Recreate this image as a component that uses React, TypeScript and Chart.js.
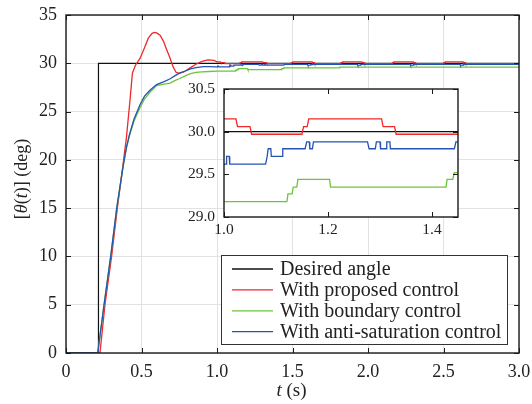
import React, { useEffect, useRef } from 'react';
import { Chart, registerables } from 'chart.js';

Chart.register(...registerables);

const FONT = '"Liberation Serif", "Times New Roman", serif';

// ---------- axis ticks ----------
const xTicks = [0, 0.5, 1.0, 1.5, 2.0, 2.5, 3.0];
const yTicks = [0, 5, 10, 15, 20, 25, 30, 35];
const insetXTicks = [1.0, 1.2, 1.4];
const insetYTicks = [29.0, 29.5, 30.0, 30.5];

// ---------- series ----------
const seriesNames = [
  'Desired angle',
  'With proposed control',
  'With boundary control',
  'With anti-saturation control',
];
const seriesColors = ['#111111', '#f0282a', '#6cc43c', '#2553b2'];

// [t (s), theta (deg)]
const desired: [number, number][] = [
  [0, 0], [0.215, 0], [0.215, 30], [3.0, 30],
];

const proposed: [number, number][] = [
  [0, 0], [0.225, 0], [0.258, 5], [0.302, 10], [0.34, 15], [0.38, 19.8], [0.40, 22.3],
  [0.424, 26.2], [0.44, 29.0], [0.46, 29.8], [0.49, 30.5], [0.52, 31.6], [0.545, 32.6],
  [0.57, 33.1], [0.585, 33.2], [0.60, 33.15], [0.623, 32.9], [0.645, 32.3], [0.667, 31.4],
  [0.69, 30.5], [0.71, 29.6], [0.73, 29.05], [0.75, 28.95], [0.78, 29.1], [0.82, 29.5],
  [0.86, 29.9], [0.90, 30.2], [0.94, 30.35], [0.98, 30.3], [1.0, 30.15],
  [1.023, 30.15], [1.026, 30.06], [1.05, 30.06], [1.053, 29.97], [1.15, 29.97],
  [1.153, 30.06], [1.16, 30.06], [1.163, 30.15], [1.303, 30.15], [1.306, 30.06],
  [1.328, 30.06], [1.331, 29.97], [1.49, 29.97], [1.492, 30.06], [1.50, 30.06],
  [1.502, 30.15], [1.63, 30.15], [1.632, 30.06], [1.645, 30.06], [1.647, 29.97],
  [1.82, 29.97], [1.822, 30.06], [1.83, 30.06], [1.832, 30.15], [1.96, 30.15],
  [1.962, 30.06], [1.975, 30.06], [1.977, 29.97], [2.16, 29.97], [2.162, 30.06],
  [2.17, 30.06], [2.172, 30.15], [2.30, 30.15], [2.302, 30.06], [2.315, 30.06],
  [2.317, 29.97], [2.50, 29.97], [2.502, 30.06], [2.51, 30.06], [2.512, 30.15],
  [2.63, 30.15], [2.632, 30.06], [2.645, 30.06], [2.647, 29.97], [3.0, 29.97],
];

const boundary: [number, number][] = [
  [0, 0], [0.21, 0], [0.252, 5], [0.296, 10], [0.336, 15], [0.38, 19.5], [0.40, 21.2],
  [0.42, 22.5], [0.45, 24.0], [0.49, 25.4], [0.52, 26.3], [0.556, 27.0], [0.60, 27.7],
  [0.65, 27.85], [0.69, 27.95], [0.72, 28.2], [0.75, 28.4], [0.79, 28.7], [0.82, 28.9],
  [0.86, 29.05], [0.90, 29.12], [0.95, 29.15], [1.0, 29.18], [1.121, 29.18],
  [1.123, 29.27], [1.131, 29.27], [1.133, 29.35], [1.14, 29.35], [1.142, 29.44],
  [1.203, 29.44], [1.205, 29.35], [1.427, 29.35], [1.429, 29.44], [1.44, 29.44],
  [1.443, 29.52], [1.81, 29.52], [1.812, 29.6], [3.0, 29.6],
];

const antiSaturation: [number, number][] = [
  [0, 0], [0.21, 0], [0.252, 5], [0.296, 10], [0.336, 15], [0.38, 19.5], [0.40, 21.3],
  [0.42, 22.6], [0.45, 24.2], [0.49, 25.7], [0.52, 26.6], [0.556, 27.2], [0.60, 27.8],
  [0.65, 28.1], [0.69, 28.4], [0.72, 28.7], [0.755, 29.0], [0.79, 29.2], [0.82, 29.4],
  [0.86, 29.55], [0.91, 29.65], [0.95, 29.65], [0.99, 29.62], [1.0, 29.62],
  [1.004, 29.62], [1.005, 29.71], [1.010, 29.71], [1.011, 29.62], [1.08, 29.62],
  [1.083, 29.71], [1.085, 29.80], [1.09, 29.80], [1.091, 29.71], [1.112, 29.71],
  [1.113, 29.80], [1.156, 29.80], [1.159, 29.88], [1.164, 29.88], [1.165, 29.80],
  [1.17, 29.80], [1.172, 29.88], [1.276, 29.88], [1.279, 29.80], [1.291, 29.80],
  [1.293, 29.88], [1.30, 29.88], [1.301, 29.80], [1.312, 29.80], [1.313, 29.88],
  [1.319, 29.88], [1.32, 29.80], [1.443, 29.80], [1.446, 29.88], [1.60, 29.88],
  [1.602, 29.80], [1.62, 29.80], [1.622, 29.88], [1.93, 29.88], [1.932, 29.80],
  [1.95, 29.80], [1.952, 29.88], [2.28, 29.88], [2.282, 29.80], [2.30, 29.80],
  [2.302, 29.88], [2.61, 29.88], [2.612, 29.80], [2.63, 29.80], [2.632, 29.88],
  [3.0, 29.88],
];

const allSeries = [desired, proposed, boundary, antiSaturation];
const drawOrder = [3, 2, 1, 0]; // blue drawn on top

function buildDatasets() {
  return allSeries.map((s, i) => ({
    label: seriesNames[i],
    data: s.map(([x, y]) => ({ x, y })),
    borderColor: seriesColors[i],
    backgroundColor: seriesColors[i],
    borderWidth: i === 0 ? 1.2 : 1.3,
    pointRadius: 0,
    tension: 0,
    fill: false,
    order: drawOrder[i],
  }));
}

function zeroPad(s: any) {
  s.paddingLeft = 0;
  s.paddingRight = 0;
  s.paddingTop = 0;
  s.paddingBottom = 0;
}

// frame + inward ticks
function framePlugin(tickLen: number, xt: number[], yt: number[]) {
  return {
    id: 'frame',
    afterDatasetsDraw(chart: any) {
      const { ctx, chartArea: a, scales } = chart;
      ctx.save();
      ctx.strokeStyle = '#1a1a1a';
      ctx.lineWidth = 1;
      ctx.beginPath();
      xt.forEach((v) => {
        const x = Math.round(scales.x.getPixelForValue(v)) + 0.5;
        ctx.moveTo(x, a.bottom);
        ctx.lineTo(x, a.bottom - tickLen);
        ctx.moveTo(x, a.top);
        ctx.lineTo(x, a.top + tickLen);
      });
      yt.forEach((v) => {
        const y = Math.round(scales.y.getPixelForValue(v)) + 0.5;
        ctx.moveTo(a.left, y);
        ctx.lineTo(a.left + tickLen, y);
        ctx.moveTo(a.right, y);
        ctx.lineTo(a.right - tickLen, y);
      });
      ctx.stroke();
      ctx.lineWidth = 1.4;
      ctx.strokeRect(a.left, a.top, a.right - a.left, a.bottom - a.top);
      ctx.restore();
    },
  };
}

const whiteAreaPlugin = {
  id: 'whiteArea',
  beforeDraw(chart: any) {
    const { ctx, chartArea: a } = chart;
    ctx.save();
    ctx.fillStyle = '#ffffff';
    ctx.fillRect(a.left, a.top, a.right - a.left, a.bottom - a.top);
    ctx.restore();
  },
};

const titlesPlugin = {
  id: 'titles',
  afterDraw(chart: any) {
    const { ctx } = chart;
    const drawParts = (parts: { t: string; i: boolean }[], size: number) => {
      const normal = `${size}px ${FONT}`;
      const italic = `italic ${size}px ${FONT}`;
      let total = 0;
      parts.forEach((p) => {
        ctx.font = p.i ? italic : normal;
        total += ctx.measureText(p.t).width;
      });
      let x = -total / 2;
      parts.forEach((p) => {
        ctx.font = p.i ? italic : normal;
        ctx.fillText(p.t, x, 0);
        x += ctx.measureText(p.t).width;
      });
    };
    ctx.save();
    ctx.fillStyle = '#222';
    ctx.textBaseline = 'middle';
    ctx.textAlign = 'left';
    // x title
    ctx.save();
    const a = chart.chartArea;
    ctx.translate((a.left + a.right) / 2 - 1, 391);
    drawParts([{ t: 't', i: true }, { t: ' (s)', i: false }], 19);
    ctx.restore();
    // y title
    ctx.save();
    ctx.translate(22, 179);
    ctx.rotate(-Math.PI / 2);
    drawParts(
      [
        { t: '[', i: false },
        { t: 'θ', i: true },
        { t: '(', i: false },
        { t: 't', i: true },
        { t: ')] (deg)', i: false },
      ],
      18
    );
    ctx.restore();
    ctx.restore();
  },
};

const legendPlugin = {
  id: 'customLegend',
  afterDraw(chart: any) {
    const { ctx } = chart;
    const bx = 221.5, by = 255.5, bw = 286, bh = 89;
    ctx.save();
    ctx.fillStyle = '#ffffff';
    ctx.fillRect(bx, by, bw, bh);
    ctx.strokeStyle = '#333';
    ctx.lineWidth = 1;
    ctx.strokeRect(bx, by, bw, bh);
    ctx.font = `20px ${FONT}`;
    ctx.textBaseline = 'alphabetic';
    ctx.textAlign = 'left';
    seriesNames.forEach((name, i) => {
      const y = 269 + i * 20.9;
      ctx.strokeStyle = seriesColors[i];
      ctx.lineWidth = 1.3;
      ctx.beginPath();
      ctx.moveTo(232, y);
      ctx.lineTo(273, y);
      ctx.stroke();
      ctx.fillStyle = '#222';
      ctx.fillText(name, 280, y + 6);
    });
    ctx.restore();
  },
};

export default function App() {
  const mainRef = useRef<HTMLCanvasElement>(null);
  const insetRef = useRef<HTMLCanvasElement>(null);

  useEffect(() => {
    const main = new Chart(mainRef.current as HTMLCanvasElement, {
      type: 'line',
      data: { datasets: buildDatasets() as any },
      options: {
        animation: false,
        responsive: false,
        events: [],
        layout: { padding: { top: 15, right: 13, left: 0, bottom: 0 } },
        plugins: { legend: { display: false }, tooltip: { enabled: false } },
        scales: {
          x: {
            type: 'linear',
            min: 0,
            max: 3,
            afterBuildTicks: (s: any) => {
              s.ticks = xTicks.map((v) => ({ value: v }));
            },
            afterFit: (s: any) => {
              s.height = 51;
              zeroPad(s);
            },
            grid: { color: '#e2e2e2', lineWidth: 1, drawTicks: false },
            border: { display: false },
            ticks: {
              font: { family: FONT, size: 18 },
              color: '#222',
              padding: 8,
              maxRotation: 0,
              autoSkip: false,
              callback: (v: any) => (Number(v) === 0 ? '0' : Number(v).toFixed(1)),
            },
          },
          y: {
            type: 'linear',
            min: 0,
            max: 35,
            afterBuildTicks: (s: any) => {
              s.ticks = yTicks.map((v) => ({ value: v }));
            },
            afterFit: (s: any) => {
              s.width = 66;
              zeroPad(s);
            },
            grid: { color: '#e2e2e2', lineWidth: 1, drawTicks: false },
            border: { display: false },
            ticks: {
              font: { family: FONT, size: 18 },
              color: '#222',
              padding: 9,
              autoSkip: false,
              callback: (v: any) => String(v),
            },
          },
        },
      },
      plugins: [framePlugin(5, xTicks, yTicks), titlesPlugin, legendPlugin],
    });

    const inset = new Chart(insetRef.current as HTMLCanvasElement, {
      type: 'line',
      data: { datasets: buildDatasets() as any },
      options: {
        animation: false,
        responsive: false,
        events: [],
        layout: { padding: { top: 14, right: 12, left: 0, bottom: 0 } },
        plugins: { legend: { display: false }, tooltip: { enabled: false } },
        scales: {
          x: {
            type: 'linear',
            min: 1.0,
            max: 1.45,
            afterBuildTicks: (s: any) => {
              s.ticks = insetXTicks.map((v) => ({ value: v }));
            },
            afterFit: (s: any) => {
              s.height = 33;
              zeroPad(s);
            },
            grid: { display: false, drawTicks: false },
            border: { display: false },
            ticks: {
              font: { family: FONT, size: 15.5 },
              color: '#222',
              padding: 4,
              maxRotation: 0,
              autoSkip: false,
              callback: (v: any) => Number(v).toFixed(1),
            },
          },
          y: {
            type: 'linear',
            min: 29.0,
            max: 30.5,
            afterBuildTicks: (s: any) => {
              s.ticks = insetYTicks.map((v) => ({ value: v }));
            },
            afterFit: (s: any) => {
              s.width = 44;
              zeroPad(s);
            },
            grid: { display: false, drawTicks: false },
            border: { display: false },
            ticks: {
              font: { family: FONT, size: 15.5 },
              color: '#222',
              padding: 9,
              autoSkip: false,
              callback: (v: any) => Number(v).toFixed(1),
            },
          },
        },
      },
      plugins: [whiteAreaPlugin, framePlugin(5, insetXTicks, insetYTicks)],
    });

    return () => {
      main.destroy();
      inset.destroy();
    };
  }, []);

  return (
    <div
      style={{
        position: 'absolute',
        left: 0,
        top: 0,
        width: 532,
        height: 404,
        background: '#ffffff',
      }}
    >
      <canvas
        ref={mainRef}
        width={532}
        height={404}
        style={{ position: 'absolute', left: 0, top: 0, width: 532, height: 404 }}
      />
      <canvas
        ref={insetRef}
        width={290}
        height={175}
        style={{ position: 'absolute', left: 180, top: 75, width: 290, height: 175 }}
      />
    </div>
  );
}
